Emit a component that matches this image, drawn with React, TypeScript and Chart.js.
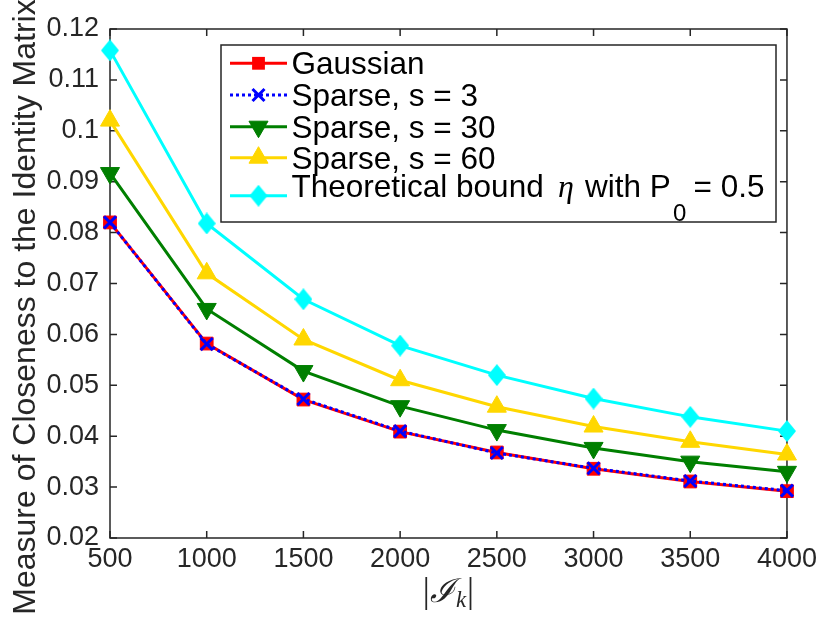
import React, { useEffect, useRef } from 'react';
import { Chart, registerables } from 'chart.js';

Chart.register(...registerables);

// ---------- data ----------
const sizes = [500, 1000, 1500, 2000, 2500, 3000, 3500, 4000];
const gaussian = [0.082, 0.0582, 0.0472, 0.0409, 0.0368, 0.0336, 0.0311, 0.0292];
const sparse3 = [0.082, 0.0581, 0.0473, 0.041, 0.0367, 0.0337, 0.0312, 0.0293];
const sparse30 = [0.0917, 0.065, 0.0528, 0.0459, 0.0412, 0.0377, 0.035, 0.033];
const sparse60 = [0.102, 0.072, 0.059, 0.051, 0.0458, 0.0419, 0.0389, 0.0364];
const bound = [0.1158, 0.0818, 0.0669, 0.0578, 0.052, 0.0474, 0.0438, 0.041];

const xTicks = [500, 1000, 1500, 2000, 2500, 3000, 3500, 4000];
const xTickLabels = ['500', '1000', '1500', '2000', '2500', '3000', '3500', '4000'];
const yTicks = [0.02, 0.03, 0.04, 0.05, 0.06, 0.07, 0.08, 0.09, 0.1, 0.11, 0.12];
const yTickLabels = ['0.02', '0.03', '0.04', '0.05', '0.06', '0.07', '0.08', '0.09', '0.1', '0.11', '0.12'];

const seriesNames = ['Gaussian', 'Sparse, s = 3', 'Sparse, s = 30', 'Sparse, s = 60', 'Theoretical bound η with P0 = 0.5'];
const yTitle = 'Measure of Closeness to the Identity Matrix';

const AXIS_COLOR = '#262626';
const SANS = '"Liberation Sans", Arial, Helvetica, sans-serif';
const SERIF = '"Liberation Serif", "DejaVu Serif", serif';

const COLORS = ['#FF0000', '#0000FF', '#007F00', '#FFD700', '#00FFFF'];

function makeDiamond(w: number, h: number, color: string): HTMLCanvasElement {
  const c = document.createElement('canvas');
  c.width = w;
  c.height = h;
  const g = c.getContext('2d')!;
  g.fillStyle = color;
  g.beginPath();
  g.moveTo(w / 2, 0);
  g.lineTo(w, h / 2);
  g.lineTo(w / 2, h);
  g.lineTo(0, h / 2);
  g.closePath();
  g.fill();
  return c;
}

function drawMarker(ctx: CanvasRenderingContext2D, kind: number, x: number, y: number, diamond: HTMLCanvasElement) {
  ctx.save();
  const col = COLORS[kind];
  ctx.fillStyle = col;
  ctx.strokeStyle = col;
  if (kind === 0) {
    const s = 6.4;
    ctx.fillRect(x - s, y - s, 2 * s, 2 * s);
  } else if (kind === 1) {
    const s = 6;
    ctx.lineWidth = 3;
    ctx.beginPath();
    ctx.moveTo(x - s, y - s);
    ctx.lineTo(x + s, y + s);
    ctx.moveTo(x + s, y - s);
    ctx.lineTo(x - s, y + s);
    ctx.stroke();
  } else if (kind === 2 || kind === 3) {
    const r = 11;
    const dir = kind === 2 ? 1 : -1;
    ctx.beginPath();
    ctx.moveTo(x, y + dir * r);
    ctx.lineTo(x + r * Math.sin((2 * Math.PI) / 3), y - dir * r * 0.5);
    ctx.lineTo(x - r * Math.sin((2 * Math.PI) / 3), y - dir * r * 0.5);
    ctx.closePath();
    ctx.fill();
    ctx.lineWidth = 1;
    ctx.stroke();
  } else {
    ctx.drawImage(diamond, x - diamond.width / 2, y - diamond.height / 2);
  }
  ctx.restore();
}

export default function App() {
  const canvasRef = useRef<HTMLCanvasElement | null>(null);

  useEffect(() => {
    const canvas = canvasRef.current;
    if (!canvas) return;
    const diamond = makeDiamond(18, 22, COLORS[4]);

    const pts = (arr: number[]) => sizes.map((x, i) => ({ x, y: arr[i] }));

    const framePlugin = {
      id: 'frame',
      beforeDatasetsDraw(chart: any) {
        const { ctx, chartArea } = chart;
        const { left, right, top, bottom } = chartArea;
        const xs = chart.scales.x;
        const ys = chart.scales.y;
        ctx.save();
        ctx.strokeStyle = AXIS_COLOR;
        ctx.lineWidth = 1.5;
        ctx.beginPath();
        ctx.rect(left, top, right - left, bottom - top);
        ctx.stroke();
        const tl = 7;
        ctx.beginPath();
        xTicks.forEach((v) => {
          const px = xs.getPixelForValue(v);
          ctx.moveTo(px, bottom);
          ctx.lineTo(px, bottom - tl);
          ctx.moveTo(px, top);
          ctx.lineTo(px, top + tl);
        });
        yTicks.forEach((v) => {
          const py = ys.getPixelForValue(v);
          ctx.moveTo(left, py);
          ctx.lineTo(left + tl, py);
          ctx.moveTo(right, py);
          ctx.lineTo(right - tl, py);
        });
        ctx.stroke();
        ctx.restore();
      },
      afterDatasetsDraw(chart: any) {
        const ctx: CanvasRenderingContext2D = chart.ctx;
        // legend box
        const L = 221, T = 45, R = 776, B = 222;
        ctx.save();
        ctx.fillStyle = '#FFFFFF';
        ctx.fillRect(L, T, R - L, B - T);
        ctx.strokeStyle = AXIS_COLOR;
        ctx.lineWidth = 1.5;
        ctx.strokeRect(L, T, R - L, B - T);

        const lineYs = [63.3, 95, 126.7, 157.7, 195.7];
        const x0 = 230, x1 = 287, xm = 258.5, tx = 291.5;
        lineYs.forEach((ly, i) => {
          ctx.save();
          ctx.strokeStyle = COLORS[i];
          ctx.lineWidth = 3;
          if (i === 1) ctx.setLineDash([3, 3]);
          ctx.beginPath();
          ctx.moveTo(x0, ly);
          ctx.lineTo(x1, ly);
          ctx.stroke();
          ctx.restore();
          drawMarker(ctx, i, xm, ly, diamond);
        });

        ctx.fillStyle = '#000000';
        ctx.textAlign = 'left';
        ctx.textBaseline = 'alphabetic';
        ctx.font = '31.5px ' + SANS;
        for (let i = 0; i < 4; i++) {
          ctx.fillText(seriesNames[i], tx, lineYs[i] + 11);
        }
        // theoretical row with math parts
        const base = 197.3;
        ctx.font = '31.5px ' + SANS;
        ctx.fillText('Theoretical bound', tx, base);
        ctx.font = 'italic 32px ' + SERIF;
        ctx.fillText('η', 558, base);
        ctx.font = '31.5px ' + SANS;
        ctx.fillText('with P', 585, base);
        ctx.font = '24px ' + SANS;
        ctx.fillText('0', 673, 221);
        ctx.font = '31.5px ' + SANS;
        ctx.fillText('= 0.5', 693.5, base);
        ctx.restore();
      },
      afterDraw(chart: any) {
        const ctx: CanvasRenderingContext2D = chart.ctx;
        const { left, right } = chart.chartArea;
        ctx.save();
        // y title
        ctx.fillStyle = AXIS_COLOR;
        ctx.font = '32px ' + SANS;
        ctx.textAlign = 'center';
        ctx.textBaseline = 'alphabetic';
        ctx.translate(35, 307);
        ctx.rotate(-Math.PI / 2);
        ctx.fillText(yTitle, 0, 0);
        ctx.restore();

        // x title |I_k|
        ctx.save();
        ctx.fillStyle = AXIS_COLOR;
        ctx.textBaseline = 'alphabetic';
        ctx.textAlign = 'left';
        const base = 602;
        const parts: { t: string; f: string; dy: number }[] = [
          { t: '|', f: '35px ' + SERIF, dy: 0 },
          { t: 'ℐ', f: 'italic 33px "DejaVu Serif", serif', dy: 0 },
          { t: 'k', f: 'italic 23px ' + SERIF, dy: 5 },
          { t: '|', f: '35px ' + SERIF, dy: 0 },
        ];
        let total = 0;
        const widths = parts.map((p) => {
          ctx.font = p.f;
          const w = ctx.measureText(p.t).width + (p.t === '|' ? 0 : 1);
          total += w;
          return w;
        });
        let cx = (left + right) / 2 - total / 2;
        parts.forEach((p, i) => {
          ctx.font = p.f;
          ctx.fillText(p.t, cx, base + p.dy);
          cx += widths[i];
        });
        ctx.restore();
      },
    };

    const common = {
      borderWidth: 3,
      tension: 0,
      clip: false as any,
      pointHoverRadius: 0,
    };

    const chart = new Chart(canvas, {
      type: 'line',
      data: {
        datasets: [
          {
            ...common,
            label: seriesNames[0],
            data: pts(gaussian),
            borderColor: COLORS[0],
            backgroundColor: COLORS[0],
            pointStyle: 'rect',
            pointRadius: 9,
            pointBorderWidth: 1,
            pointBackgroundColor: COLORS[0],
            pointBorderColor: COLORS[0],
            order: 5,
          },
          {
            ...common,
            label: seriesNames[1],
            data: pts(sparse3),
            borderColor: COLORS[1],
            backgroundColor: COLORS[1],
            borderDash: [3, 3],
            pointStyle: 'crossRot',
            pointRadius: 8.5,
            pointBorderWidth: 3,
            pointBorderColor: COLORS[1],
            order: 4,
          },
          {
            ...common,
            label: seriesNames[2],
            data: pts(sparse30),
            borderColor: COLORS[2],
            backgroundColor: COLORS[2],
            pointStyle: 'triangle',
            rotation: 180,
            pointRadius: 11,
            pointBorderWidth: 1,
            pointBackgroundColor: COLORS[2],
            pointBorderColor: COLORS[2],
            order: 3,
          },
          {
            ...common,
            label: seriesNames[3],
            data: pts(sparse60),
            borderColor: COLORS[3],
            backgroundColor: COLORS[3],
            pointStyle: 'triangle',
            pointRadius: 11,
            pointBorderWidth: 1,
            pointBackgroundColor: COLORS[3],
            pointBorderColor: COLORS[3],
            order: 2,
          },
          {
            ...common,
            label: seriesNames[4],
            data: pts(bound),
            borderColor: COLORS[4],
            backgroundColor: COLORS[4],
            pointStyle: diamond as any,
            pointRadius: 11,
            order: 1,
          },
        ] as any,
      },
      options: {
        responsive: false,
        animation: false,
        events: [],
        layout: { padding: { top: 29, right: 34, left: 0, bottom: 0 } },
        plugins: {
          legend: { display: false },
          tooltip: { enabled: false },
          title: { display: false },
        },
        scales: {
          x: {
            type: 'linear',
            min: 500,
            max: 4000,
            afterBuildTicks: (scale: any) => {
              scale.ticks = xTicks.map((v) => ({ value: v }));
            },
            afterFit: (scale: any) => {
              scale.height = 81;
            },
            grid: { display: false, drawTicks: false },
            border: { display: false },
            ticks: {
              autoSkip: false,
              maxRotation: 0,
              padding: 5,
              color: AXIS_COLOR,
              font: { family: SANS, size: 27 },
              callback: (_v: any, i: number) => xTickLabels[i],
            },
          },
          y: {
            type: 'linear',
            min: 0.02,
            max: 0.12,
            afterBuildTicks: (scale: any) => {
              scale.ticks = yTicks.map((v) => ({ value: v }));
            },
            afterFit: (scale: any) => {
              scale.width = 110;
            },
            grid: { display: false, drawTicks: false },
            border: { display: false },
            ticks: {
              autoSkip: false,
              padding: 11,
              color: AXIS_COLOR,
              font: { family: SANS, size: 27 },
              callback: (_v: any, i: number) => yTickLabels[i],
            },
          },
        },
      } as any,
      plugins: [framePlugin],
    });

    return () => {
      chart.destroy();
    };
  }, []);

  return (
    <div style={{ position: 'absolute', left: 0, top: 0, width: 822, height: 619, background: '#FFFFFF' }}>
      <canvas ref={canvasRef} width={822} height={619} style={{ display: 'block' }} />
    </div>
  );
}
